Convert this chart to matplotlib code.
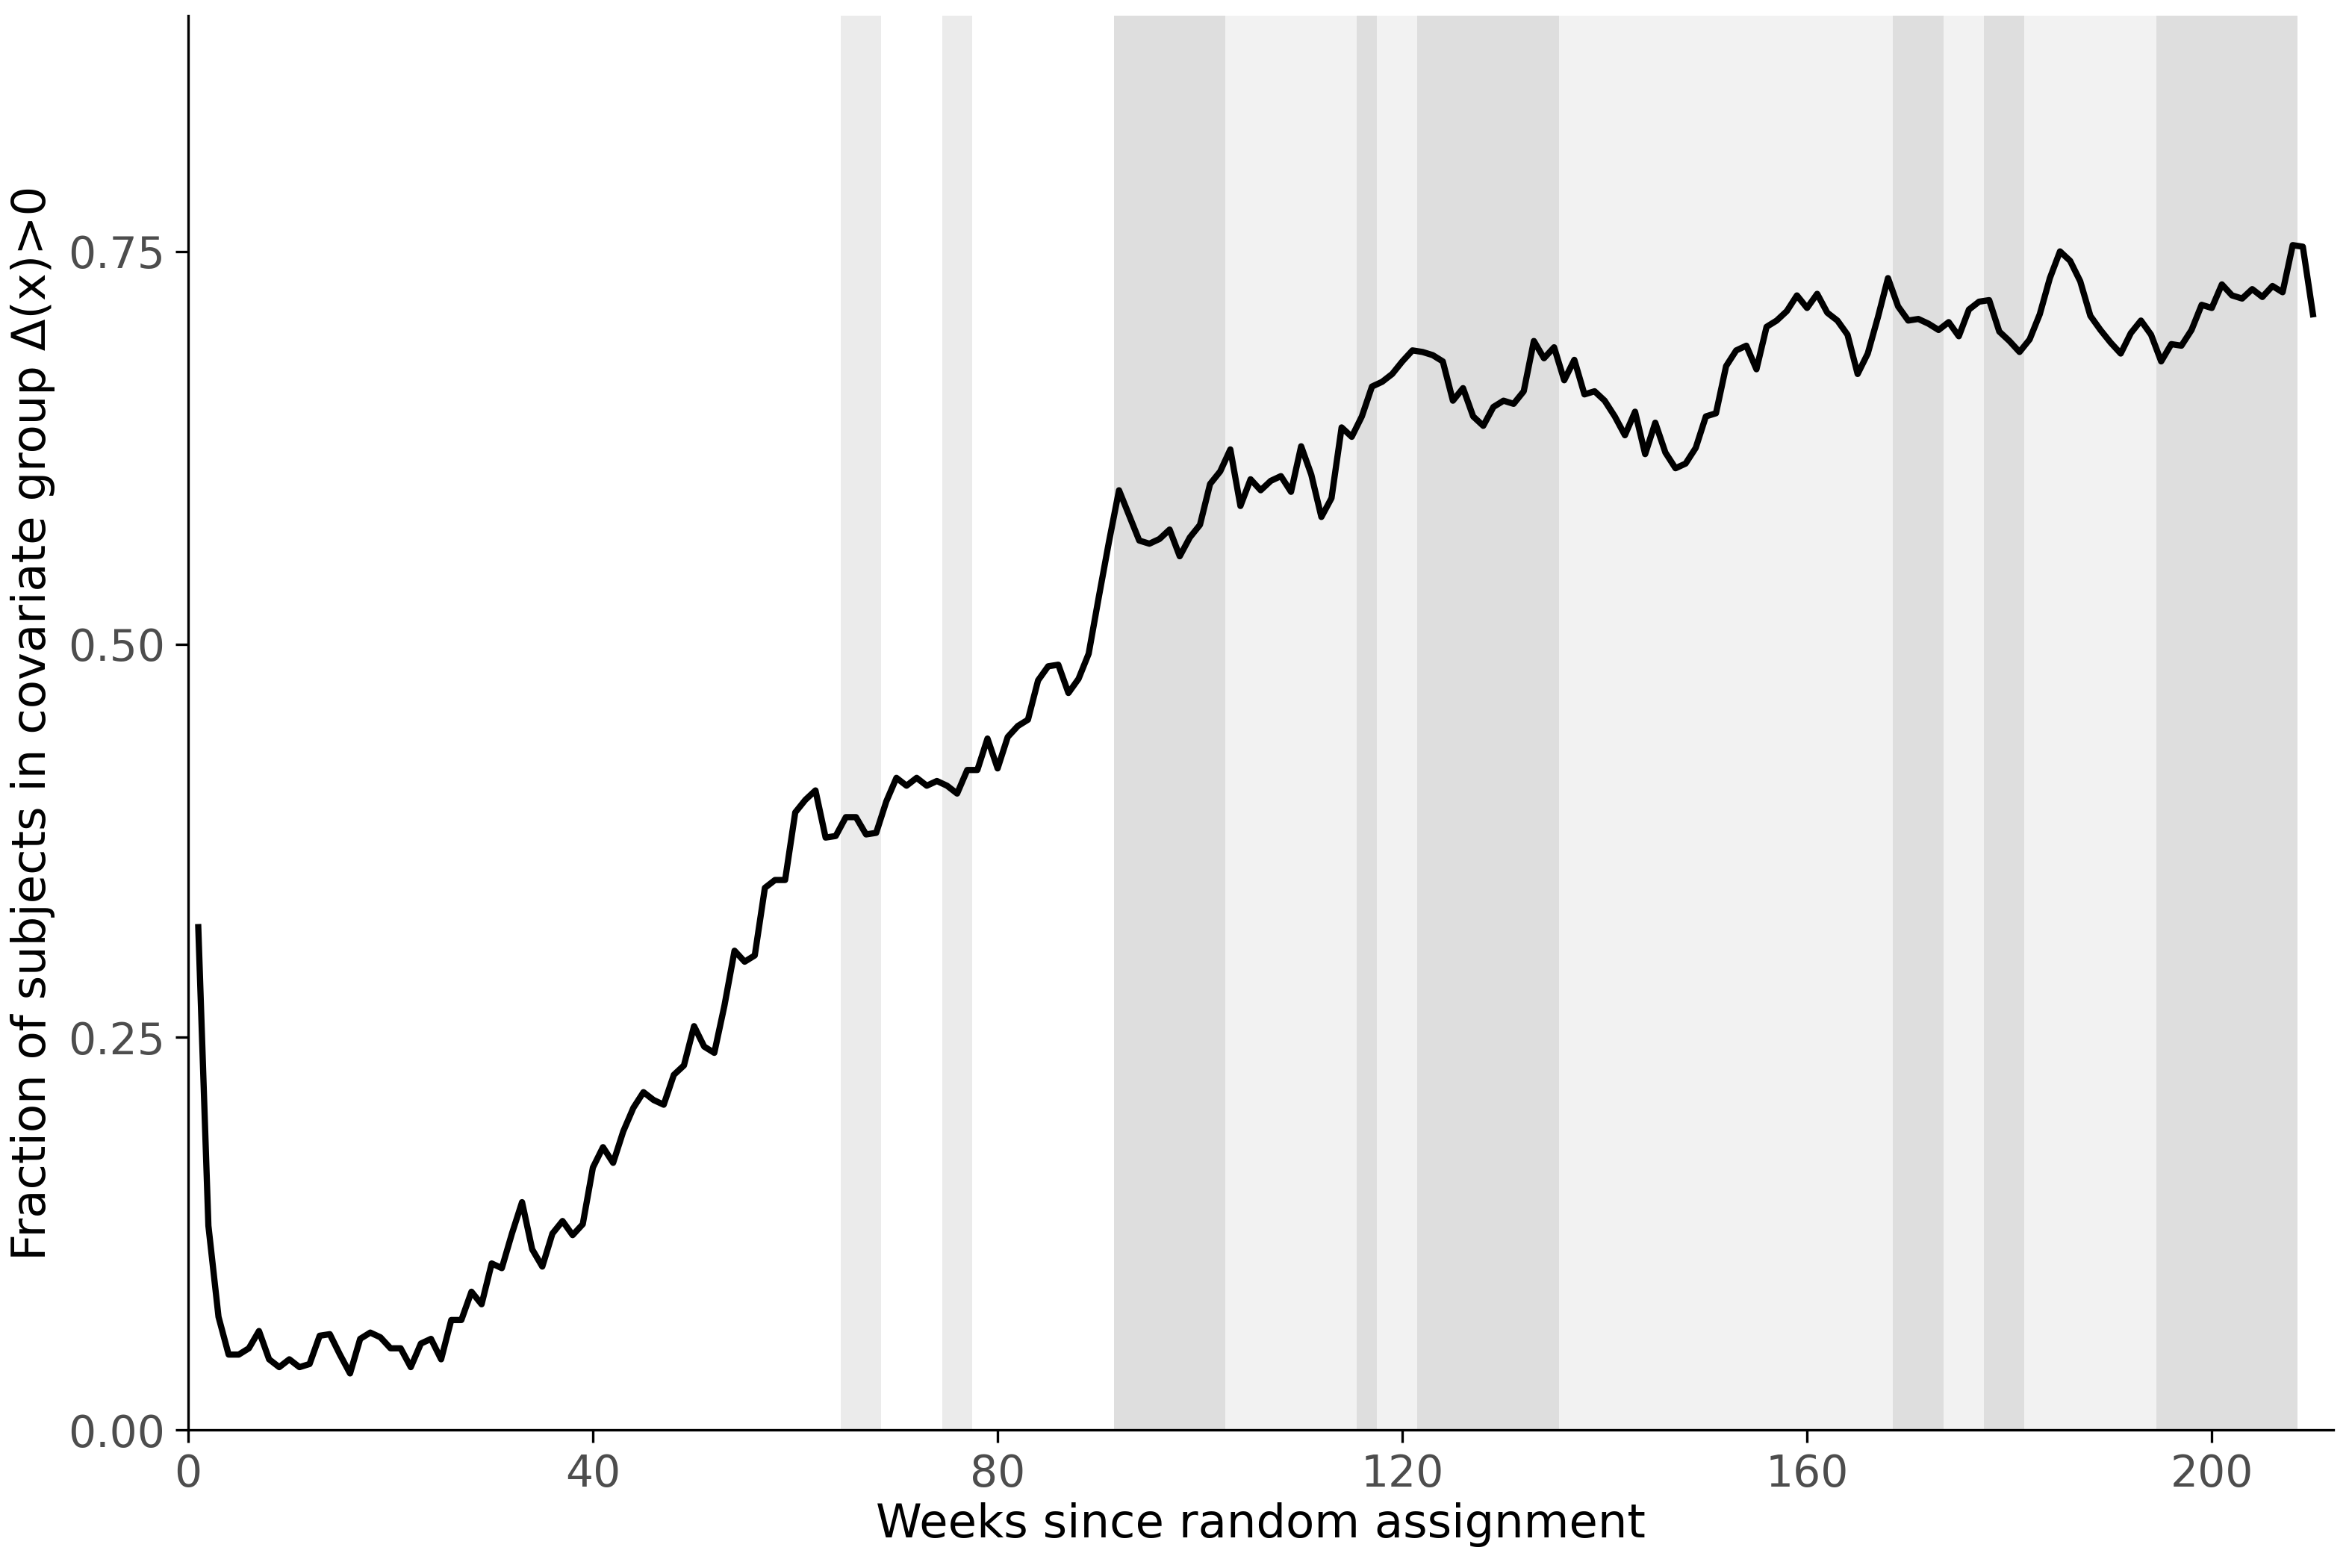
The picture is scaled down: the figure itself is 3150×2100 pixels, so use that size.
import matplotlib
matplotlib.use("Agg")
import matplotlib.pyplot as plt
import numpy as np

values = [.32,.13,.072,.048,.048,.052,.063,.045,.040,.045,.040,.042,.060,.061,.048,.036,.058,.062,.059,.052,
.052,.040,.055,.058,.045,.070,.070,.088,.080,.106,.103,.125,.145,.115,.104,.125,.133,.124,.131,.167,
.180,.170,.190,.205,.215,.210,.207,.226,.232,.257,.244,.240,.270,.305,.298,.302,.345,.350,.350,.393,
.401,.407,.377,.378,.390,.390,.379,.380,.400,.415,.410,.415,.410,.413,.410,.405,.420,.420,.440,.421,
.441,.448,.452,.477,.486,.487,.469,.478,.494,.530,.565,.598,.582,.566,.564,.567,.573,.556,.568,.576,
.602,.610,.624,.588,.605,.598,.604,.607,.597,.626,.608,.581,.593,.638,.632,.645,.664,.667,.672,.680,
.687,.686,.684,.680,.655,.663,.645,.639,.651,.655,.653,.661,.693,.682,.689,.668,.681,.659,.661,.655,
.645,.633,.648,.621,.641,.622,.612,.615,.625,.645,.647,.677,.687,.690,.675,.702,.706,.712,.722,.714,
.723,.711,.706,.697,.672,.685,.708,.733,.715,.706,.707,.704,.700,.705,.696,.713,.718,.719,.699,.693,
.686,.694,.710,.733,.750,.744,.731,.709,.700,.692,.685,.698,.706,.697,.680,.691,.690,.700,.716,.714,
.729,.722,.720,.726,.721,.728,.724,.754,.753,.710]
weeks = np.arange(1, len(values) + 1)

band_start = [64.5, 74.5, 91.5, 102.5, 115.5, 117.5, 121.5, 135.5, 168.5, 173.5, 177.5, 181.5, 194.5]
band_end   = [68.5, 77.5, 102.5, 115.5, 117.5, 121.5, 135.5, 168.5, 173.5, 177.5, 181.5, 194.5, 208.5]
band_color = ["#ebebeb", "#ebebeb", "#dedede", "#f2f2f2", "#dedede", "#f2f2f2", "#dedede",
              "#f2f2f2", "#dedede", "#f2f2f2", "#dedede", "#f2f2f2", "#dedede"]

fig, ax = plt.subplots(figsize=(10.5, 7), dpi=300)
fig.subplots_adjust(left=0.08, right=0.992, bottom=0.088, top=0.99)
for s, e, c in zip(band_start, band_end, band_color):
    ax.axvspan(s, e, color=c, lw=0, zorder=0)
ax.plot(weeks, values, color="black", lw=2, zorder=2)
ax.set_xlim(0, 212)
ax.set_ylim(0, 0.9)
ax.set_xticks([0, 40, 80, 120, 160, 200])
ax.set_yticks([0, 0.25, 0.5, 0.75])
ax.set_yticklabels(["0.00", "0.25", "0.50", "0.75"])
for sp in ["top", "right"]:
    ax.spines[sp].set_visible(False)
ax.tick_params(labelsize=14, colors="#4d4d4d", length=4)
ax.tick_params(color="black")
ax.set_xlabel("Weeks since random assignment", fontsize=15, labelpad=2)
ax.set_ylabel("Fraction of subjects in covariate group Δ(x)>0", fontsize=15)
ax.margins(0)
fig.savefig("out.png")
